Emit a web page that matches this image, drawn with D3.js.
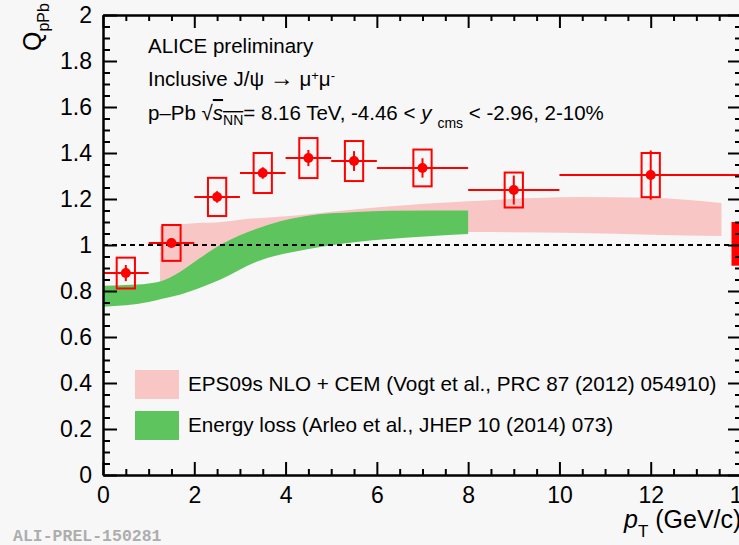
<!DOCTYPE html>
<html>
<head>
<meta charset="utf-8">
<script src="https://cdn.jsdelivr.net/npm/d3@7"></script>
<style>
  body { margin: 0; background: #f7f7f7; }
  svg { display: block; font-family: "Liberation Sans", Arial, Helvetica, sans-serif; }
</style>
</head>
<body>
<div id="chart"></div>
<script>
// J/psi data points (pT bins)
const ptLow = [0, 1, 2, 3, 4, 5, 6, 8, 10];
const ptHigh = [1, 2, 3, 4, 5, 6, 8, 10, 14];
const ptCenter = [0.5, 1.5, 2.5, 3.5, 4.5, 5.5, 7, 9, 12];
const qpPb = [0.878, 1.009, 1.209, 1.313, 1.378, 1.365, 1.335, 1.239, 1.304];
const statErr = [0.035, 0.02, 0.025, 0.025, 0.035, 0.043, 0.042, 0.063, 0.107];
const systErr = [0.067, 0.078, 0.083, 0.087, 0.087, 0.087, 0.08, 0.076, 0.096];

// global uncertainty box at unity
const globalLow = 0.91;
const globalHigh = 1.1;

// EPS09s NLO + CEM band
const epsPt = [1.25, 2, 2.6, 3, 4.1, 5, 6.1, 8, 10.4, 12, 13.55];
const epsLow = [0.84, 0.88, 0.92, 0.94, 0.99, 1.02, 1.04, 1.056, 1.052, 1.045, 1.039];
const epsHigh = [1.083, 1.095, 1.1, 1.11, 1.126, 1.145, 1.165, 1.19, 1.209, 1.205, 1.183];

// Energy loss band
const elossPt = [0, 0.5, 1, 1.3, 1.7, 2.1, 2.6, 3.35, 4.45, 5.55, 6.27, 8];
const elossLow = [0.732, 0.738, 0.752, 0.766, 0.785, 0.812, 0.852, 0.926, 0.98, 1.013, 1.026, 1.048];
const elossHigh = [0.823, 0.826, 0.833, 0.845, 0.885, 0.94, 1.004, 1.07, 1.126, 1.143, 1.149, 1.15];

// ticks
const xTicks = [0, 2, 4, 6, 8, 10, 12, 14];
const yTicks = [0, 0.2, 0.4, 0.6, 0.8, 1, 1.2, 1.4, 1.6, 1.8, 2];

const legendLabels = [
  "EPS09s NLO + CEM (Vogt et al., PRC 87 (2012) 054910)",
  "Energy loss (Arleo et al., JHEP 10 (2014) 073)"
];

const pink = "#f9c6c6";
const green = "#5ec55e";
const red = "#ff0000";

const w = 739;
const h = 545;

const x = d3.scaleLinear().domain([0, 14]).range([103, 742]);
const y = d3.scaleLinear().domain([0, 2]).range([475, 15]);

const svg = d3.select('#chart')
              .append('svg')
              .attr('width', w)
              .attr('height', h);

svg.append('rect')
   .attr('width', w)
   .attr('height', h)
   .attr('fill', '#f7f7f7');

//Theory bands
const epsData = epsPt.map((p, i) => ({p: p, lo: epsLow[i], hi: epsHigh[i]}));
const elossData = elossPt.map((p, i) => ({p: p, lo: elossLow[i], hi: elossHigh[i]}));

const band = d3.area()
               .x(d => x(d.p))
               .y0(d => y(d.lo))
               .y1(d => y(d.hi))
               .curve(d3.curveMonotoneX);

svg.append('path')
   .datum(epsData)
   .attr('d', band)
   .attr('fill', pink);

svg.append('path')
   .datum(elossData)
   .attr('d', band)
   .attr('fill', green);

//Dashed unity line
svg.append('line')
   .attr('x1', x(0))
   .attr('x2', x(14))
   .attr('y1', y(1))
   .attr('y2', y(1))
   .attr('stroke', '#000')
   .attr('stroke-width', 2)
   .attr('stroke-dasharray', '5,4');

//Global uncertainty
svg.append('rect')
   .attr('x', x(13.77))
   .attr('y', y(globalHigh))
   .attr('width', x(14) - x(13.77))
   .attr('height', y(globalLow) - y(globalHigh))
   .attr('fill', red);

//Data points
const pts = ptCenter.map((c, i) => ({c: c, lo: ptLow[i], hi: ptHigh[i], v: qpPb[i], st: statErr[i], sy: systErr[i]}));

const g = svg.append('g');

g.selectAll('.syst')
 .data(pts)
 .enter()
 .append('rect')
 .attr('x', d => x(d.c - 0.2))
 .attr('y', d => y(d.v + d.sy))
 .attr('width', d => x(d.c + 0.2) - x(d.c - 0.2))
 .attr('height', d => y(d.v - d.sy) - y(d.v + d.sy))
 .attr('fill', 'none')
 .attr('stroke', red)
 .attr('stroke-width', 2);

g.selectAll('.xerr')
 .data(pts)
 .enter()
 .append('line')
 .attr('x1', d => x(d.lo))
 .attr('x2', d => x(d.hi))
 .attr('y1', d => y(d.v))
 .attr('y2', d => y(d.v))
 .attr('stroke', red)
 .attr('stroke-width', 2);

g.selectAll('.yerr')
 .data(pts)
 .enter()
 .append('line')
 .attr('x1', d => x(d.c))
 .attr('x2', d => x(d.c))
 .attr('y1', d => y(d.v - d.st))
 .attr('y2', d => y(d.v + d.st))
 .attr('stroke', red)
 .attr('stroke-width', 2);

g.selectAll('circle')
 .data(pts)
 .enter()
 .append('circle')
 .attr('cx', d => x(d.c))
 .attr('cy', d => y(d.v))
 .attr('r', 5)
 .attr('fill', red);

//Axes
const minorX = d3.range(0, 14.01, 0.5).filter(v => v % 2 != 0);
const minorY = d3.range(0, 2.001, 0.05).map(v => +v.toFixed(2)).filter(v => Math.round(v * 100) % 20 != 0);

const styleAxis = sel => {
  sel.selectAll('path').attr('stroke', '#000').attr('stroke-width', 2);
  sel.selectAll('line').attr('stroke', '#000').attr('stroke-width', 2);
  sel.selectAll('text').attr('fill', '#000').style('font-size', '23px');
};

svg.append('g')
   .attr('transform', `translate(0, ${y(0)})`)
   .call(d3.axisBottom(x).tickValues(xTicks).tickSize(-13).tickSizeOuter(0).tickPadding(12).tickFormat(d3.format('~g')))
   .call(styleAxis)
   .call(s => s.selectAll('text').attr('font-family', null));

svg.append('g')
   .attr('transform', `translate(0, ${y(0)})`)
   .call(d3.axisBottom(x).tickValues(minorX).tickSize(-6).tickSizeOuter(0).tickFormat(''))
   .call(styleAxis);

svg.append('g')
   .attr('transform', `translate(0, ${y(2)})`)
   .call(d3.axisTop(x).tickValues(xTicks).tickSize(-13).tickSizeOuter(0).tickFormat(''))
   .call(styleAxis);

svg.append('g')
   .attr('transform', `translate(0, ${y(2)})`)
   .call(d3.axisTop(x).tickValues(minorX).tickSize(-6).tickSizeOuter(0).tickFormat(''))
   .call(styleAxis);

svg.append('g')
   .attr('transform', `translate(${x(0)}, 0)`)
   .call(d3.axisLeft(y).tickValues(yTicks).tickSize(-14).tickSizeOuter(0).tickPadding(11).tickFormat(d3.format('~g')))
   .call(styleAxis);

svg.append('g')
   .attr('transform', `translate(${x(0)}, 0)`)
   .call(d3.axisLeft(y).tickValues(minorY).tickSize(-7).tickSizeOuter(0).tickFormat(''))
   .call(styleAxis);

svg.append('g')
   .attr('transform', `translate(${x(14)}, 0)`)
   .call(d3.axisRight(y).tickValues(yTicks).tickSize(-14).tickSizeOuter(0).tickFormat(''))
   .call(styleAxis);

svg.append('g')
   .attr('transform', `translate(${x(14)}, 0)`)
   .call(d3.axisRight(y).tickValues(minorY).tickSize(-7).tickSizeOuter(0).tickFormat(''))
   .call(styleAxis);

svg.selectAll('.domain').attr('stroke-width', 2);

//Axis titles
const yTitle = svg.append('text')
                  .attr('transform', 'translate(41, 51) rotate(-90)')
                  .style('font-size', '25px');
yTitle.append('tspan').text('Q');
yTitle.append('tspan').attr('dy', 8).style('font-size', '16px').text('pPb');

const xTitle = svg.append('text')
                  .attr('x', 624)
                  .attr('y', 528)
                  .style('font-size', '25px');
xTitle.append('tspan').style('font-style', 'italic').text('p');
xTitle.append('tspan').attr('dy', 9).style('font-size', '17px').text('T');
xTitle.append('tspan').attr('dy', -9).text(' (GeV/c)');

//Labels
const labels = svg.append('g').style('font-size', '20.5px').attr('fill', '#000');

labels.append('text').attr('x', 148).attr('y', 53).text('ALICE preliminary');

const l2 = labels.append('text').attr('x', 148).attr('y', 86);
l2.append('tspan').text('Inclusive J/\u03c8 ');
l2.append('tspan').style('font-size', '24px').text('\u2192');
l2.append('tspan').text(' \u03bc');
l2.append('tspan').attr('dy', -6).style('font-size', '13px').text('+');
l2.append('tspan').attr('dy', 6).text('\u03bc');
l2.append('tspan').attr('dy', -6).style('font-size', '13px').text('-');

const l3 = labels.append('text').attr('x', 148).attr('y', 120);
l3.append('tspan').text('p\u2013Pb \u221a');
l3.append('tspan').style('font-style', 'italic').style('text-decoration', 'overline').text('s');
l3.append('tspan').attr('dy', 5).style('font-size', '14px').style('text-decoration', 'overline').text('NN');
l3.append('tspan').attr('dy', -5).text('= 8.16 TeV, -4.46 < ');
l3.append('tspan').style('font-style', 'italic').text('y');
l3.append('tspan').attr('dy', 8).attr('dx', 6).style('font-size', '14px').text('cms');
l3.append('tspan').attr('dy', -8).text(' < -2.96, 2-10%');

//Legend
const legend = svg.append('g').attr('id', 'legend');

legend.selectAll('rect')
      .data([pink, green])
      .enter()
      .append('rect')
      .attr('x', 135)
      .attr('y', (d, i) => 370 + i * 41)
      .attr('width', 44)
      .attr('height', 29)
      .attr('fill', d => d);

legend.selectAll('text')
      .data(legendLabels)
      .enter()
      .append('text')
      .attr('x', 188)
      .attr('y', (d, i) => 391 + i * 41)
      .style('font-size', '20.7px')
      .text(d => d);

//Watermark
svg.append('text')
   .attr('x', 13)
   .attr('y', 541)
   .attr('fill', '#adadad')
   .style('font-family', '"Liberation Mono", "Courier New", monospace')
   .style('font-weight', 'bold')
   .style('font-size', '16.5px')
   .text('ALI-PREL-150281');
</script>
</body>
</html>
